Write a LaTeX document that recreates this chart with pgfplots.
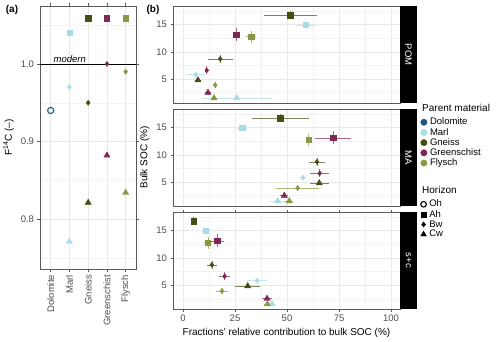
\documentclass[border=0pt]{standalone}
\usepackage{fontspec}
\setmainfont{Liberation Sans}
\usepackage{pgfplots}
\pgfplotsset{compat=1.18}

\definecolor{dolo}{RGB}{27,88,135}
\definecolor{marl}{RGB}{168,220,228}
\definecolor{gnei}{RGB}{70,78,22}
\definecolor{gsch}{RGB}{126,40,84}
\definecolor{flys}{RGB}{138,152,68}
\definecolor{tickgrey}{RGB}{77,77,77}

\pgfplotsset{
  gg/.style={
    scale only axis,
    axis line style={draw=black!65, line width=0.6pt},
    tick style={draw=black!65, line width=0.5pt},
    tick align=outside, major tick length=2.5pt, minor tick length=0pt,
    grid=both,
    major grid style={draw=black!9, line width=0.5pt},
    minor grid style={draw=black!5, line width=0.3pt},
    ticklabel style={font=\fontsize{9.5}{10}\selectfont, text=tickgrey},
    /pgf/number format/assume math mode=true,
    label style={font=\fontsize{10}{12}\selectfont},
    clip=false,
  },
  Ah/.style={only marks, mark=square*, mark size=2.7pt},
  Bw/.style={only marks, mark=diamond*, mark size=2.6pt},
  Cw/.style={only marks, mark=triangle*, mark size=3.6pt},
  Oh/.style={only marks, mark=o, mark size=3.1pt, mark options={line width=1.1pt}},
  eb/.style={error bars/.cd, x dir=both, x explicit, y dir=both, y explicit,
    error mark=none, error bar style={line width=0.6pt, opacity=0.7}},
  facet/.style={gg, width=227pt, height=97pt,
    xmin=-4.8, xmax=104.3, ymin=0.6, ymax=18.4,
    xtick={0,25,50,75,100}, minor xtick={12.5,37.5,62.5,87.5},
    ytick={5,10,15}, minor ytick={2.5,7.5,12.5,17.5}},
  noxlab/.style={xticklabels={}, xtick style={draw=none}},
  leg/.style={hide axis, scale only axis, width=1pt, height=1pt,
    xmin=0, xmax=1, ymin=0, ymax=1, anchor=north west,
    legend style={at={(0,1)}, anchor=north west, draw=none, fill=none,
      font=\fontsize{9.5}{10}\selectfont, row sep=0pt, column sep=2pt, inner sep=0pt,
      nodes={inner sep=0.9pt}, cells={anchor=west}},
    legend image code/.code={\draw[mark repeat=2,mark phase=2,##1]
      plot coordinates {(0pt,0pt) (3.5pt,0pt) (7pt,0pt)};}},
}

\begin{document}
\begin{tikzpicture}[x=1pt,y=1pt]
\useasboundingbox (0,0) rectangle (500,341);

% ---------- panel (a) ----------
\begin{axis}[gg, at={(40pt,72pt)}, anchor=south west,
  width=96pt, height=263pt,
  xmin=0.43, xmax=5.55, ymin=0.7355, ymax=1.0748,
  xtick={1,2,3,4,5},
  xticklabels={Dolomite,Marl,Gneiss,Greenschist,Flysch},
  xticklabel style={rotate=90, anchor=east},
  ytick={0.8,0.9,1.0}, minor ytick={0.75,0.85,0.95,1.05},
  yticklabel style={/pgf/number format/.cd, fixed, fixed zerofill, precision=1},
  ylabel={F\textsuperscript{14}C (–)},
  ]
  \addplot[black, line width=0.8pt, forget plot] coordinates {(0.43,1.0) (5.55,1.0)};
  \node[font=\itshape\fontsize{9.5}{10}\selectfont, anchor=south, inner sep=1.2pt]
    at (axis cs:2.02,1.0) {modern};
  \addplot[dolo, Oh] coordinates {(1,0.940)};
  \addplot[marl, Ah] coordinates {(2,1.040)};
  \addplot[marl, Bw] coordinates {(2,0.970)};
  \addplot[marl, Cw] coordinates {(2,0.771)};
  \addplot[gnei, Ah] coordinates {(3,1.059)};
  \addplot[gnei, Bw] coordinates {(3,0.950)};
  \addplot[gnei, Cw] coordinates {(3,0.821)};
  \addplot[gsch, Ah] coordinates {(4,1.059)};
  \addplot[gsch, Bw] coordinates {(4,1.000)};
  \addplot[gsch, Cw] coordinates {(4,0.882)};
  \addplot[flys, Ah] coordinates {(5,1.059)};
  \addplot[flys, Bw] coordinates {(5,0.990)};
  \addplot[flys, Cw] coordinates {(5,0.834)};
\end{axis}

% ---------- panel (b), POM ----------
\begin{axis}[facet, noxlab, at={(173pt,238pt)}, anchor=south west]
  \addplot[gnei, Ah, eb] coordinates {(51.6,16.7) +- (12.9,0.7)};
  \addplot[marl, Ah, eb] coordinates {(59.1,14.95) +- (4.5,0.5)};
  \addplot[gsch, Ah, eb] coordinates {(25.5,13.1) +- (1.5,1.2)};
  \addplot[flys, Ah, eb] coordinates {(32.7,12.8) +- (2.5,1.1)};
  \addplot[gnei, Bw, eb] coordinates {(17.9,8.7) +- (5.9,0.8)};
  \addplot[gsch, Bw, eb] coordinates {(11.4,6.6) +- (1.0,0.7)};
  \addplot[marl, Bw, eb] coordinates {(6.1,5.8) +- (4.3,0.3)};
  \addplot[gnei, Cw, eb] coordinates {(7.2,4.8) +- (1.5,0.4)};
  \addplot[flys, Bw, eb] coordinates {(15.5,3.9) +- (1.0,0.6)};
  \addplot[gsch, Cw, eb] coordinates {(12.0,2.5) +- (1.5,0.4)};
  \addplot[marl, Cw, eb] coordinates {(25.9,1.5) +- (17.0,0.2)};
  \addplot[flys, Cw, eb] coordinates {(14.9,1.5) +- (1.5,0.3)};
\end{axis}

% ---------- panel (b), MA ----------
\begin{axis}[facet, noxlab, at={(173pt,135pt)}, anchor=south west,
  ylabel={Bulk SOC (\%)}]
  \addplot[gnei, Ah, eb] coordinates {(46.8,16.7) +- (13.8,0.7)};
  \addplot[marl, Ah, eb] coordinates {(28.4,14.95) +- (2.5,0.5)};
  \addplot[flys, Ah, eb] coordinates {(60.4,12.8) +- (1.5,1.1)};
  \addplot[gsch, Ah, eb] coordinates {(72.1,13.1) +- (8.8,1.2)};
  \addplot[gnei, Bw, eb] coordinates {(64.4,8.7) +- (4.0,0.8)};
  \addplot[gsch, Bw, eb] coordinates {(65.7,6.6) +- (4.5,0.7)};
  \addplot[marl, Bw, eb] coordinates {(57.7,5.8) +- (1.5,0.3)};
  \addplot[gnei, Cw, eb] coordinates {(65.5,4.8) +- (4.5,0.4)};
  \addplot[flys, Bw, eb] coordinates {(55.1,3.9) +- (10.5,0.6)};
  \addplot[gsch, Cw, eb] coordinates {(48.7,2.5) +- (2.0,0.4)};
  \addplot[marl, Cw, eb] coordinates {(45.5,1.5) +- (4.0,0.2)};
  \addplot[flys, Cw, eb] coordinates {(51.1,1.5) +- (2.0,0.3)};
\end{axis}

% ---------- panel (b), s+c ----------
\begin{axis}[facet, at={(173pt,32pt)}, anchor=south west,
  xlabel={Fractions\textquotesingle{} relative contribution to bulk SOC (\%)}]
  \addplot[gnei, Ah, eb] coordinates {(5.1,16.7) +- (1.0,0.7)};
  \addplot[marl, Ah, eb] coordinates {(11.0,14.95) +- (2.0,0.5)};
  \addplot[flys, Ah, eb] coordinates {(12.0,12.8) +- (2.0,1.1)};
  \addplot[gsch, Ah, eb] coordinates {(16.5,13.1) +- (3.0,1.2)};
  \addplot[gnei, Bw, eb] coordinates {(13.9,8.7) +- (2.5,0.8)};
  \addplot[gsch, Bw, eb] coordinates {(20.0,6.6) +- (2.5,0.7)};
  \addplot[marl, Bw, eb] coordinates {(35.6,5.8) +- (5.0,0.3)};
  \addplot[gnei, Cw, eb] coordinates {(31.1,4.8) +- (6.0,0.4)};
  \addplot[flys, Bw, eb] coordinates {(18.7,3.9) +- (3.0,0.6)};
  \addplot[gsch, Cw, eb] coordinates {(40.4,2.5) +- (2.5,0.4)};
  \addplot[marl, Cw, eb] coordinates {(42.8,1.5) +- (2.0,0.2)};
  \addplot[flys, Cw, eb] coordinates {(40.6,1.5) +- (1.5,0.3)};
\end{axis}

% facet strips
\fill[black] (400,238) rectangle (417,335);
\fill[black] (400,135) rectangle (417,232);
\fill[black] (400,32) rectangle (417,129);
\node[white, rotate=-90, font=\fontsize{9.5}{10}\selectfont] at (408.5,286.5) {POM};
\node[white, rotate=-90, font=\fontsize{9.5}{10}\selectfont] at (408.5,183.5) {MA};
\node[white, rotate=-90, font=\fontsize{9.5}{10}\selectfont] at (408.5,80.5) {s+c};

% panel tags
\node[font=\bfseries\fontsize{10}{12}\selectfont] at (12,331) {(a)};
\node[font=\bfseries\fontsize{10}{12}\selectfont] at (153,331) {(b)};

% legends
\node[anchor=west, inner sep=0pt, font=\fontsize{10}{12}\selectfont] at (422,233) {Parent material};
\begin{axis}[leg, at={(420.5pt,224pt)}]
  \addlegendimage{only marks, mark=*, mark size=3.2pt, dolo}\addlegendentry{Dolomite}
  \addlegendimage{only marks, mark=*, mark size=3.2pt, marl}\addlegendentry{Marl}
  \addlegendimage{only marks, mark=*, mark size=3.2pt, gnei}\addlegendentry{Gneiss}
  \addlegendimage{only marks, mark=*, mark size=3.2pt, gsch}\addlegendentry{Greenschist}
  \addlegendimage{only marks, mark=*, mark size=3.2pt, flys}\addlegendentry{Flysch}
\end{axis}
\node[anchor=west, inner sep=0pt, font=\fontsize{10}{12}\selectfont] at (422,151) {Horizon};
\begin{axis}[leg, at={(420.5pt,142pt)}]
  \addlegendimage{black, Oh, mark size=2.8pt}\addlegendentry{Oh}
  \addlegendimage{black, Ah, mark size=2.6pt}\addlegendentry{Ah}
  \addlegendimage{black, Bw, mark size=2.6pt}\addlegendentry{Bw}
  \addlegendimage{black, Cw, mark size=3.3pt}\addlegendentry{Cw}
\end{axis}
\end{tikzpicture}
\end{document}
